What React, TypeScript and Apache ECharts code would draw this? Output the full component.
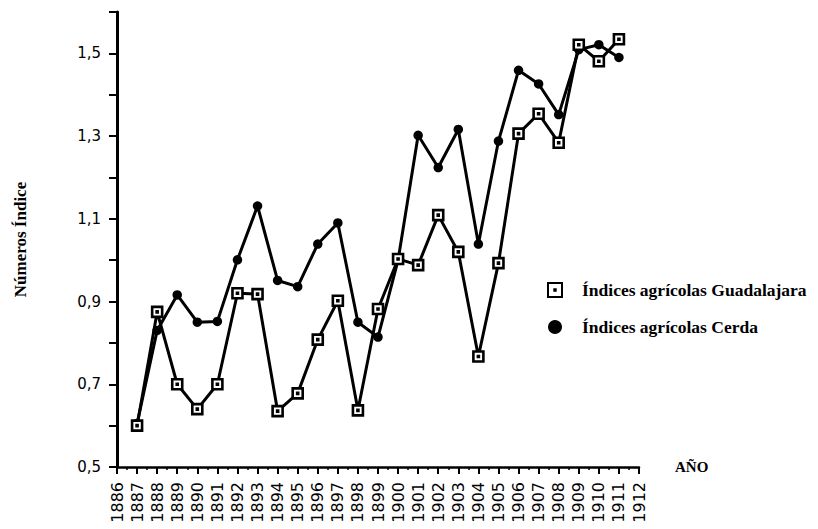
import React, { useEffect, useRef } from 'react';
import * as echarts from 'echarts';

const years = [1887, 1888, 1889, 1890, 1891, 1892, 1893, 1894, 1895, 1896, 1897, 1898, 1899, 1900, 1901, 1902, 1903, 1904, 1905, 1906, 1907, 1908, 1909, 1910, 1911];
const guadalajara = [0.60, 0.875, 0.70, 0.64, 0.70, 0.92, 0.918, 0.635, 0.678, 0.808, 0.902, 0.637, 0.882, 1.003, 0.988, 1.109, 1.02, 0.767, 0.993, 1.306, 1.354, 1.284, 1.521, 1.481, 1.534];
const cerda = [0.605, 0.83, 0.916, 0.85, 0.852, 1.001, 1.131, 0.951, 0.936, 1.039, 1.09, 0.85, 0.814, 1.0, 1.302, 1.224, 1.316, 1.039, 1.288, 1.459, 1.426, 1.352, 1.509, 1.521, 1.49];
const nameGuadalajara = 'Índices agrícolas Guadalajara';
const nameCerda = 'Índices agrícolas Cerda';
const yAxisTitle = 'Números Índice';
const xAxisTitle = 'AÑO';

const SQUARE = 'path://M0,0H10V10H0ZM4.5,4.5H5.5V5.5H4.5Z';
const SERIF = '"Liberation Serif", "Times New Roman", serif';
const SANS = '"DejaVu Sans", sans-serif';

export default function App() {
  const ref = useRef<HTMLDivElement>(null);
  useEffect(() => {
    document.body.style.margin = '0';
    const chart = echarts.init(ref.current!, null, { renderer: 'svg' });
    chart.setOption({
      animation: false,
      backgroundColor: '#fff',
      grid: { left: 117, right: 179, top: 12, bottom: 62, outerBoundsMode: 'none' },
      legend: {
        orient: 'vertical',
        left: 542,
        top: 276,
        itemWidth: 44,
        itemHeight: 14,
        itemGap: 19,
        textStyle: { fontFamily: SERIF, fontSize: 17.5, fontWeight: 'bold', color: '#000' },
        data: [
          { name: nameGuadalajara, icon: SQUARE },
          { name: nameCerda, icon: 'circle' },
        ],
      },
      xAxis: {
        type: 'value',
        min: 1886,
        max: 1912,
        interval: 1,
        name: xAxisTitle,
        nameLocation: 'end',
        nameGap: 36,
        nameTextStyle: { fontFamily: SERIF, fontSize: 15, fontWeight: 'bold', color: '#000', verticalAlign: 'middle', align: 'left' },
        axisLine: { lineStyle: { color: '#000', width: 2.5 } },
        axisTick: { show: true, length: 7, lineStyle: { color: '#000', width: 2 } },
        minorTick: { show: true, splitNumber: 2, length: 3, lineStyle: { color: '#000', width: 1.5 } },
        splitLine: { show: false },
        axisLabel: {
          rotate: 90,
          margin: 15,
          fontFamily: SANS,
          fontSize: 16,
          color: '#000',
          formatter: (v: number) => String(Math.round(v)),
        },
      },
      yAxis: {
        type: 'value',
        min: 0.5,
        max: 1.6,
        interval: 0.1,
        name: yAxisTitle,
        nameLocation: 'middle',
        nameGap: 88,
        nameTextStyle: { fontFamily: SERIF, fontSize: 17, fontWeight: 'bold', color: '#000' },
        axisLine: { show: true, lineStyle: { color: '#000', width: 3 } },
        axisTick: { show: true, length: 8, lineStyle: { color: '#000', width: 2 } },
        splitLine: { show: false },
        axisLabel: {
          margin: 16,
          fontFamily: SANS,
          fontSize: 15,
          color: '#000',
          formatter: (v: number) => {
            const k = Math.round(v * 10);
            return k % 2 === 1 ? (k / 10).toFixed(1).replace('.', ',') : '';
          },
        },
      },
      series: [
        {
          name: nameCerda,
          type: 'line',
          data: years.map((y, i) => [y, cerda[i]]),
          symbol: 'circle',
          symbolSize: 9.5,
          lineStyle: { color: '#000', width: 3 },
          itemStyle: { color: '#000', borderColor: '#000', borderWidth: 0 },
        },
        {
          name: nameGuadalajara,
          type: 'line',
          data: years.map((y, i) => [y, guadalajara[i]]),
          symbol: SQUARE,
          symbolSize: 10,
          lineStyle: { color: '#000', width: 3 },
          itemStyle: { color: '#fff', borderColor: '#000', borderWidth: 2.6 },
        },
      ],
    });
    return () => chart.dispose();
  }, []);
  return <div ref={ref} style={{ width: 818, height: 529 }} />;
}
